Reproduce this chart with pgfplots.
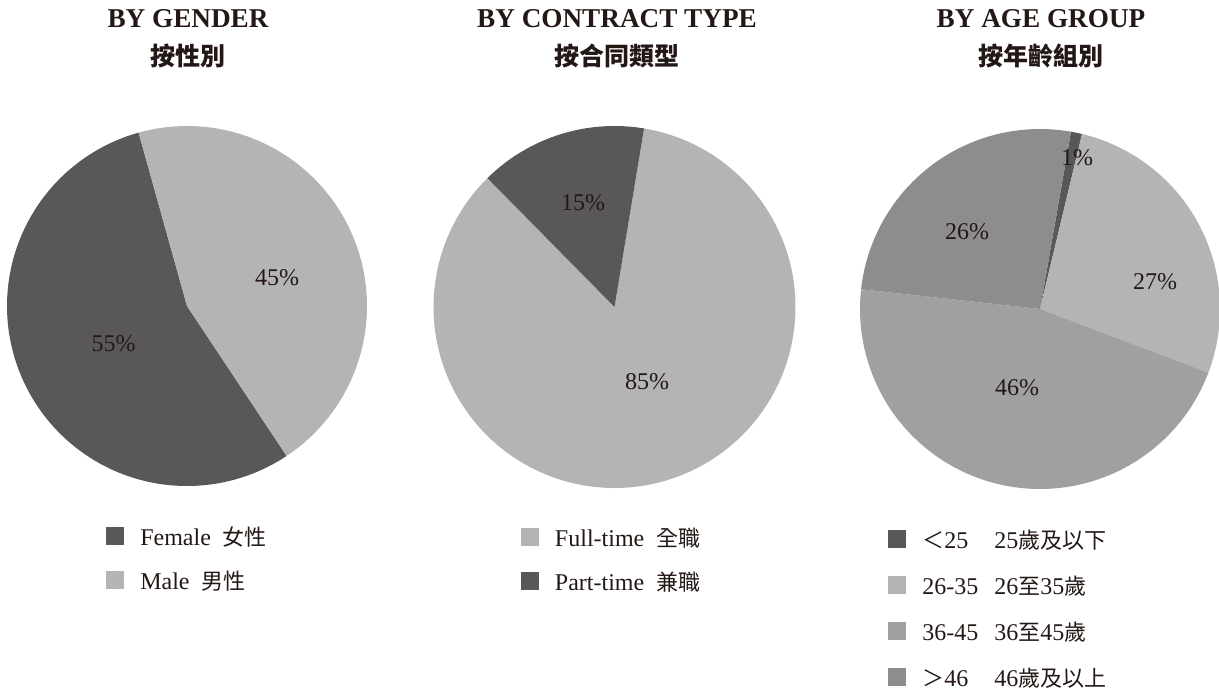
\documentclass[border=0pt]{standalone}
\usepackage{pgfplots}
\pgfplotsset{compat=1.18}
\usepackage{fontspec}
\setmainfont{Liberation Serif}
\newfontfamily\cjk{Noto Sans CJK TC}
\definecolor{dk}{HTML}{595757}
\definecolor{lt}{HTML}{B4B4B5}
\definecolor{md}{HTML}{A0A0A0}
\definecolor{mdk}{HTML}{8D8D8D}
\definecolor{txt}{HTML}{231815}
% slice: start angle (deg), percent, colour
\newcommand\slice[3]{%
  \addplot[fill=#3, draw=none, domain=#1:#1+3.6*#2, samples=150, data cs=polar] ({x},{1}) -- (axis cs:0,0) -- cycle;
}
\pgfplotsset{
  pie/.style={
    anchor=center, scale only axis, hide axis, clip=false,
    xmin=-1, xmax=1, ymin=-1, ymax=1,
    legend cell align=left,
    legend style={draw=none, fill=none, anchor=north west, font=\fontsize{12}{14}\selectfont\color{txt},
      nodes={inner sep=0pt, text height=9pt, text depth=3pt}, column sep=8pt, row sep=10pt},
    legend image code/.code={\fill[##1] (0pt,-3pt) rectangle (9pt,6pt);},
  }
}
\begin{document}
\begin{tikzpicture}
\path[use as bounding box] (0pt,0pt) rectangle (609.5pt,-346pt);
% ---------- gender
\begin{axis}[pie, at={(93.5pt,-153pt)}, width=180pt, height=180pt,
  legend style={at={(0.258,-0.102)}}]
\slice{105.6}{55}{dk}\addlegendentry{Female\hspace{6pt}{\cjk\fontsize{11}{13}\selectfont 女性}}
\slice{303.6}{45}{lt}\addlegendentry{Male\hspace{6pt}{\cjk\fontsize{11}{13}\selectfont 男性}}
\end{axis}
% ---------- contract
\begin{axis}[pie, at={(307.25pt,-153.5pt)}, width=181pt, height=181pt,
  legend style={at={(0.224,-0.099)}}]
\slice{134.6}{85}{lt}\addlegendentry{Full-time\hspace{6pt}{\cjk\fontsize{11}{13}\selectfont 全職}}
\slice{80.6}{15}{dk}\addlegendentry{Part-time\hspace{6pt}{\cjk\fontsize{11}{13}\selectfont 兼職}}
\end{axis}
% ---------- age
\begin{axis}[pie, at={(520pt,-154.5pt)}, width=180pt, height=180pt,
  legend style={at={(0.061,-0.102)}, row sep=11pt}]
\slice{76.5}{1}{dk}\addlegendentry{\makebox[36pt][l]{{\cjk\fontsize{11}{13}\selectfont ＜}25}25{\cjk\fontsize{11}{13}\selectfont 歲及以下}}
\slice{-20.7}{27}{lt}\addlegendentry{\makebox[36pt][l]{26-35}26{\cjk\fontsize{11}{13}\selectfont 至}35{\cjk\fontsize{11}{13}\selectfont 歲}}
\slice{173.7}{46}{md}\addlegendentry{\makebox[36pt][l]{36-45}36{\cjk\fontsize{11}{13}\selectfont 至}45{\cjk\fontsize{11}{13}\selectfont 歲}}
\slice{80.1}{26}{mdk}\addlegendentry{\makebox[36pt][l]{{\cjk\fontsize{11}{13}\selectfont ＞}46}46{\cjk\fontsize{11}{13}\selectfont 歲及以上}}
\end{axis}
% ---------- percentage labels
\begin{scope}[every node/.style={inner sep=0pt, text=txt, font=\fontsize{12}{14}\selectfont}]
\node at (56.75pt,-172pt) {55\%};
\node at (138.5pt,-139pt) {45\%};
\node at (291.5pt,-101.5pt) {15\%};
\node at (323.5pt,-191pt) {85\%};
\node at (538.5pt,-79pt) {1\%};
\node at (577.5pt,-141pt) {27\%};
\node at (483.5pt,-116pt) {26\%};
\node at (508.5pt,-194pt) {46\%};
\end{scope}
% ---------- titles
\begin{scope}[every node/.style={inner sep=0pt, text=txt, anchor=base}]
\node[font=\bfseries\fontsize{13.6}{15}\selectfont] at (94pt,-13.5pt) {BY GENDER};
\node[font=\cjk\bfseries\fontsize{12.5}{15}\selectfont] at (94pt,-32.5pt) {按性別};
\node[font=\bfseries\fontsize{13.6}{15}\selectfont] at (308.5pt,-13.5pt) {BY CONTRACT TYPE};
\node[font=\cjk\bfseries\fontsize{12.5}{15}\selectfont] at (308.5pt,-32.5pt) {按合同類型};
\node[font=\bfseries\fontsize{13.6}{15}\selectfont] at (520.5pt,-13.5pt) {BY AGE GROUP};
\node[font=\cjk\bfseries\fontsize{12.5}{15}\selectfont] at (520.5pt,-32.5pt) {按年齡組別};
\end{scope}
\end{tikzpicture}
\end{document}
